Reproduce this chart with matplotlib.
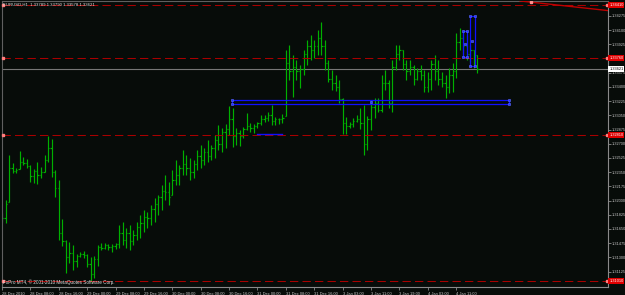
import matplotlib
matplotlib.use("Agg")
import matplotlib.pyplot as plt
from matplotlib.transforms import blended_transform_factory

# ---------------- data (EURUSD H1 bars) ----------------
highs = [1.3185, 1.3201, 1.3256, 1.3246, 1.3240, 1.3261, 1.3254, 1.3251, 1.3244, 1.3239,
         1.3247, 1.3241, 1.3256, 1.3280, 1.3276, 1.3238, 1.3225, 1.3177, 1.3151, 1.3149,
         1.3145, 1.3134, 1.3137, 1.3138, 1.3134, 1.3131, 1.3132, 1.3145, 1.3148, 1.3148,
         1.3146, 1.3146, 1.3148, 1.3170, 1.3174, 1.3166, 1.3170, 1.3164, 1.3174, 1.3182,
         1.3188, 1.3186, 1.3194, 1.3203, 1.3207, 1.3219, 1.3231, 1.3223, 1.3238, 1.3250,
         1.3244, 1.3262, 1.3256, 1.3252, 1.3250, 1.3262, 1.3269, 1.3265, 1.3275, 1.3269,
         1.3281, 1.3293, 1.3289, 1.3294, 1.3317, 1.3314, 1.3289, 1.3287, 1.3291, 1.3308,
         1.3296, 1.3294, 1.3297, 1.3305, 1.3305, 1.3309, 1.3318, 1.3303, 1.3302, 1.3307,
         1.3385, 1.3392, 1.3379, 1.3373, 1.3367, 1.3385, 1.3398, 1.3404, 1.3398, 1.3410,
         1.3420, 1.3398, 1.3373, 1.3361, 1.3355, 1.3349, 1.3326, 1.3303, 1.3297, 1.3302,
         1.3305, 1.3314, 1.3318, 1.3304, 1.3324, 1.3326, 1.3326, 1.3355, 1.3361, 1.3349,
         1.3373, 1.3392, 1.3392, 1.3385, 1.3373, 1.3373, 1.3367, 1.3363, 1.3367, 1.3361,
         1.3358, 1.3373, 1.3379, 1.3373, 1.3358, 1.3355, 1.3363, 1.3370, 1.3406, 1.3413,
         1.3410, 1.3404, 1.3392, 1.3385, 1.33790]
lows = [1.3174, 1.3172, 1.3198, 1.3234, 1.3234, 1.3239, 1.3244, 1.3240, 1.3223, 1.3222,
        1.3220, 1.3228, 1.3235, 1.3247, 1.3229, 1.3204, 1.3151, 1.3144, 1.3111, 1.3123,
        1.3115, 1.3118, 1.3131, 1.3129, 1.3118, 1.3100, 1.3105, 1.3119, 1.3139, 1.3140,
        1.3139, 1.3137, 1.3140, 1.3142, 1.3145, 1.3142, 1.3139, 1.3145, 1.3151, 1.3154,
        1.3161, 1.3166, 1.3170, 1.3174, 1.3182, 1.3188, 1.3201, 1.3194, 1.3207, 1.3219,
        1.3219, 1.3231, 1.3231, 1.3225, 1.3228, 1.3238, 1.3240, 1.3244, 1.3247, 1.3250,
        1.3252, 1.3262, 1.3260, 1.3265, 1.3281, 1.3266, 1.3269, 1.3267, 1.3277, 1.3287,
        1.3284, 1.3283, 1.3289, 1.3293, 1.3297, 1.3298, 1.3293, 1.3293, 1.3294, 1.3296,
        1.3304, 1.3349, 1.3328, 1.3349, 1.3339, 1.3355, 1.3367, 1.3373, 1.3376, 1.3379,
        1.3379, 1.3361, 1.3346, 1.3336, 1.3335, 1.3320, 1.3282, 1.3282, 1.3289, 1.3291,
        1.3297, 1.3288, 1.3256, 1.3262, 1.3287, 1.3302, 1.3309, 1.3309, 1.3336, 1.3314,
        1.3309, 1.3361, 1.3373, 1.3361, 1.3349, 1.3355, 1.3342, 1.3349, 1.3349, 1.3334,
        1.3334, 1.3336, 1.3349, 1.3342, 1.3340, 1.3326, 1.3333, 1.3334, 1.3351, 1.3385,
        1.3379, 1.3373, 1.3371, 1.3363, 1.33578]
opens = [1.3182, 1.3178, 1.3198, 1.3240, 1.3237, 1.3239, 1.3248, 1.3246, 1.3243, 1.3230,
         1.3236, 1.3232, 1.3235, 1.3250, 1.3265, 1.3235, 1.3215, 1.3160, 1.3150, 1.3130,
         1.3135, 1.3125, 1.3132, 1.3134, 1.3133, 1.3122, 1.3110, 1.3128, 1.3143, 1.3142,
         1.3145, 1.3143, 1.3144, 1.3146, 1.3160, 1.3152, 1.3160, 1.3150, 1.3158, 1.3168,
         1.3172, 1.3180, 1.3178, 1.3190, 1.3196, 1.3204, 1.3212, 1.3210, 1.3207, 1.3225,
         1.3232, 1.3240, 1.3245, 1.3240, 1.3235, 1.3245, 1.3255, 1.3250, 1.3260, 1.3255,
         1.3265, 1.3275, 1.3270, 1.3285, 1.3288, 1.3300, 1.3280, 1.3283, 1.3280, 1.3288,
         1.3292, 1.3290, 1.3292, 1.3295, 1.3300, 1.3302, 1.3305, 1.3298, 1.3300, 1.3300,
         1.3304, 1.3370, 1.3360, 1.3365, 1.3360, 1.3362, 1.3380, 1.3390, 1.3385, 1.3390,
         1.3400, 1.3390, 1.3370, 1.3350, 1.3345, 1.3340, 1.3325, 1.3295, 1.3292, 1.3294,
         1.3298, 1.3300, 1.3296, 1.3270, 1.3300, 1.3315, 1.3320, 1.3312, 1.3345, 1.3345,
         1.3320, 1.3365, 1.3380, 1.3385, 1.3368, 1.3360, 1.3365, 1.3350, 1.3360, 1.3355,
         1.3340, 1.3350, 1.3368, 1.3360, 1.3350, 1.3345, 1.3340, 1.3355, 1.3360, 1.3395,
         1.3400, 1.3390, 1.3380, 1.3385, 1.33789]
closes = [1.3178, 1.3196, 1.3240, 1.3237, 1.3238, 1.3248, 1.3246, 1.3243, 1.3230, 1.3236,
          1.3232, 1.3235, 1.3250, 1.3265, 1.3235, 1.3215, 1.3160, 1.3150, 1.3130, 1.3135,
          1.3125, 1.3132, 1.3134, 1.3133, 1.3122, 1.3110, 1.3128, 1.3143, 1.3142, 1.3145,
          1.3143, 1.3144, 1.3146, 1.3160, 1.3152, 1.3160, 1.3150, 1.3158, 1.3168, 1.3172,
          1.3180, 1.3178, 1.3190, 1.3196, 1.3204, 1.3212, 1.3210, 1.3205, 1.3225, 1.3232,
          1.3240, 1.3245, 1.3240, 1.3235, 1.3245, 1.3255, 1.3250, 1.3260, 1.3255, 1.3265,
          1.3275, 1.3270, 1.3285, 1.3288, 1.3300, 1.3280, 1.3283, 1.3280, 1.3288, 1.3292,
          1.3290, 1.3292, 1.3295, 1.3300, 1.3302, 1.3305, 1.3298, 1.3300, 1.3300, 1.3302,
          1.3370, 1.3360, 1.3365, 1.3360, 1.3362, 1.3380, 1.3390, 1.3385, 1.3390, 1.3400,
          1.3390, 1.3370, 1.3350, 1.3345, 1.3340, 1.3325, 1.3295, 1.3292, 1.3294, 1.3298,
          1.3300, 1.3296, 1.3270, 1.3300, 1.3315, 1.3320, 1.3312, 1.3345, 1.3345, 1.3320,
          1.3365, 1.3380, 1.3385, 1.3368, 1.3360, 1.3365, 1.3350, 1.3360, 1.3355, 1.3340,
          1.3350, 1.3368, 1.3360, 1.3350, 1.3345, 1.3340, 1.3355, 1.3360, 1.3395, 1.3400,
          1.3390, 1.3380, 1.3385, 1.3378, 1.33621]

time_ticks = [0, 8, 16, 24, 32, 40, 48, 56, 64, 72, 80, 88, 96, 104, 112, 120, 128]
time_labels = ['28 Dec 2010', '28 Dec 08:00', '28 Dec 16:00', '29 Dec 00:00', '29 Dec 08:00',
               '29 Dec 16:00', '30 Dec 00:00', '30 Dec 08:00', '30 Dec 16:00', '31 Dec 00:00',
               '31 Dec 08:00', '31 Dec 16:00', '3 Jan 03:00', '3 Jan 11:00', '3 Jan 19:00',
               '4 Jan 03:00', '4 Jan 11:00']
price_ticks = [1.34275, 1.34100, 1.33925, 1.33575, 1.33400, 1.33225, 1.33050,
               1.32875, 1.32700, 1.32525, 1.32350, 1.32175, 1.32000, 1.31825, 1.31650,
               1.31475, 1.31300, 1.31125]

hlines = [1.34410, 1.33760, 1.32810, 1.31010]     # red dashed horizontal lines
bid = 1.33621
trend_x = [146, 171]
trend_y = [1.34460, 1.34340]
# blue rectangles: (x0, x1, y0, y1) in bar index / price
rects = [(64.9, 142.9, 1.33186, 1.33235),
         (129.9, 131.2, 1.33770, 1.34090),
         (131.9, 133.2, 1.33660, 1.34280)]
blue_seg = (71.9, 79.0, 1.32817)

title = "EURUSD,H1  1.33789 1.33790 1.33578 1.33621"
copyright_txt = "FxPro MT4, \u00a9 2001-2010 MetaQuotes Software Corp."

# ---------------- drawing ----------------
BG = '#070c09'
GREEN = '#00b000'
GREY = '#8a8a8a'
FONT = 'Liberation Sans'

fig = plt.figure(figsize=(6.25, 2.95), dpi=100, facecolor=BG)
ax = fig.add_axes([2 / 625, 8 / 295, 606 / 625, 286 / 295], facecolor=BG)

n = len(highs)
xs = list(range(n))
ax.vlines(xs, lows, highs, colors=GREEN, linewidth=0.85)
ax.hlines(opens, [x - 0.35 for x in xs], xs, colors=GREEN, linewidth=0.85)
ax.hlines(closes, xs, [x + 0.35 for x in xs], colors=GREEN, linewidth=0.85)

xmin, xmax = 0.085, 170.8
ax.set_xlim(xmin, xmax)
ax.set_ylim(1.30935, 1.34459)

# bid line
ax.axhline(bid, color='#767676', linewidth=0.8, zorder=1)

# red dashed lines with handles
for h in hlines:
    ax.axhline(h, color='#a80000', linewidth=0.75, linestyle=(0, (8, 4)), zorder=2)
    ax.plot([xmin + 0.25, xmax - 0.3], [h, h], linestyle='none', marker='s',
            markersize=1.6, color='#ff8080', zorder=3, clip_on=False)

# red trendline
ax.plot(trend_x, trend_y, color='#c00000', linewidth=1.0, zorder=3)
ax.plot([149], [trend_y[0] - (trend_y[0] - trend_y[1]) * 3 / 25], marker='s',
        markersize=1.8, color='#ff9090', zorder=4)

# blue rectangles with handles
for (x0, x1, y0, y1) in rects:
    ax.plot([x0, x1, x1, x0, x0], [y0, y0, y1, y1, y0], color='#1010ff',
            linewidth=0.9, zorder=4)
    ax.plot([x0, x1, x0, x1, (x0 + x1) / 2], [y0, y0, y1, y1, (y0 + y1) / 2],
            linestyle='none', marker='s', markersize=2.0, color='#2030ff',
            markeredgecolor='#6070ff', markeredgewidth=0.4, zorder=5)
ax.plot([blue_seg[0], blue_seg[1]], [blue_seg[2], blue_seg[2]], color='#1010ff',
        linewidth=1.0, zorder=4)

# axes styling
for side in ['left', 'top']:
    ax.spines[side].set_color('#606060')
    ax.spines[side].set_linewidth(0.8)
for side in ['right', 'bottom']:
    ax.spines[side].set_color(GREY)
    ax.spines[side].set_linewidth(0.8)

ax.yaxis.tick_right()
ax.set_yticks(price_ticks)
ax.set_yticklabels(['%.5f' % p for p in price_ticks])
ax.tick_params(axis='y', colors=GREY, labelcolor='#c8c8c8', labelsize=2.8,
               length=2, width=0.6, pad=0.8)
for t in ax.get_yticklabels():
    t.set_fontfamily(FONT)

ax.set_xticks(time_ticks)
ax.set_xticklabels(time_labels)
ax.tick_params(axis='x', colors=GREY, labelcolor='#c8c8c8', labelsize=2.9,
               length=2.5, width=0.6, pad=0.8)
for t in ax.get_xticklabels():
    t.set_horizontalalignment('left')
    t.set_fontfamily(FONT)

# price boxes on the right axis
trans = blended_transform_factory(ax.transAxes, ax.transData)
for h in hlines:
    ax.text(1.002, h, '%.5f' % h, transform=trans, fontsize=2.8, color='white',
            va='center', ha='left', family=FONT, clip_on=False, zorder=6,
            bbox=dict(boxstyle='square,pad=0.2', facecolor='#e00000', edgecolor='none'))
ax.text(1.002, bid, '%.5f' % bid, transform=trans, fontsize=2.8, color='black',
        va='center', ha='left', family=FONT, clip_on=False, zorder=6,
        bbox=dict(boxstyle='square,pad=0.2', facecolor='white', edgecolor='none'))

# texts
ax.text(0.002, 0.993, title, transform=ax.transAxes, fontsize=3.1, color='#e0e0e0',
        va='top', ha='left', family=FONT, zorder=7)
ax.text(0.002, 0.006, copyright_txt, transform=ax.transAxes, fontsize=3.3,
        color='#e0e0e0', va='bottom', ha='left', family=FONT, zorder=7)

fig.savefig('out.png', dpi=100, facecolor=BG)
